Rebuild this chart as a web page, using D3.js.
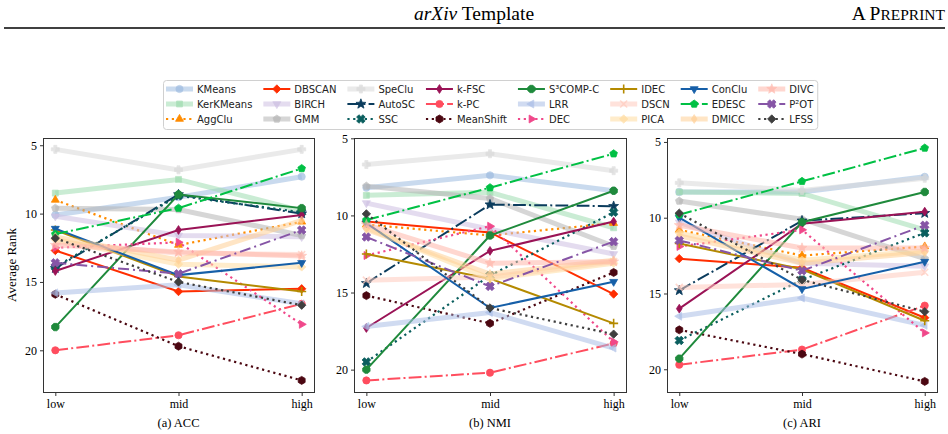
<!DOCTYPE html>
<html>
<head>
<meta charset="utf-8">
<script src="https://cdn.jsdelivr.net/npm/d3@7"></script>
<style>
  body { margin: 0; background: #fff; }
  svg { display: block; }
</style>
</head>
<body>
<script>
// levels on the x axis, shared by all three panels
var levels = ['low', 'mid', 'high'];

var methods = ['KMeans', 'KerKMeans', 'AggClu', 'DBSCAN', 'BIRCH', 'GMM',
  'SpeClu', 'AutoSC', 'SSC', 'k-FSC', 'k-PC', 'MeanShift',
  'S\u00b3COMP-C', 'LRR', 'DEC', 'IDEC', 'DSCN', 'PICA',
  'ConClu', 'EDESC', 'DMICC', 'DIVC', 'P\u00b2OT', 'LFSS'];

// average rank per method, [low, mid, high]
var accRank = [
  [10.1, 8.8, 7.3], [8.5, 7.5, 9.8], [9.0, 12.3, 10.6], [12.7, 15.7, 15.5],
  [10.2, 11.6, 11.7], [9.6, 9.7, 11.6], [5.3, 6.8, 5.3], [14.0, 8.6, 10.0],
  [13.9, 8.7, 9.9], [14.2, 11.2, 10.1], [20.0, 18.9, 16.6], [15.9, 19.7, 22.2],
  [18.3, 8.6, 9.6], [15.8, 15.2, 16.6], [12.5, 12.1, 18.1], [11.2, 14.6, 15.7],
  [12.1, 12.9, 13.0], [11.9, 13.7, 13.9], [11.1, 14.5, 13.6], [11.5, 9.6, 6.7],
  [11.7, 13.4, 10.5], [12.3, 12.8, 13.1], [13.6, 14.4, 11.2], [11.8, 15.0, 16.7]
];
var nmiRank = [
  [8.2, 7.4, 8.4], [8.7, 8.5, 10.8], [10.6, 11.3, 10.5], [10.4, 11.1, 15.1],
  [9.2, 10.9, 12.5], [8.1, 8.9, 12.0], [6.7, 6.0, 7.1], [14.4, 9.3, 9.4],
  [19.5, 13.9, 9.8], [17.3, 12.3, 10.4], [20.7, 20.2, 18.3], [15.2, 17.0, 13.7],
  [20.0, 11.3, 8.4], [17.2, 16.3, 18.6], [12.6, 10.7, 18.2], [12.5, 14.1, 17.0],
  [14.2, 14.0, 13.0], [10.8, 14.1, 13.1], [10.5, 16.0, 14.3], [10.3, 8.2, 6.0],
  [10.9, 13.8, 12.9], [10.6, 13.1, 13.0], [11.4, 14.6, 11.7], [9.9, 16.0, 17.7]
];
var ariRank = [
  [8.3, 8.3, 7.3], [8.3, 8.4, 10.8], [10.8, 12.5, 11.9], [12.7, 13.3, 16.6],
  [10.3, 13.0, 13.2], [8.9, 10.1, 12.7], [7.7, 8.2, 7.4], [14.8, 10.2, 9.7],
  [18.1, 14.1, 11.0], [16.0, 10.4, 9.6], [19.7, 18.7, 15.8], [17.4, 19.0, 20.8],
  [19.3, 10.3, 8.3], [16.5, 15.3, 17.1], [11.9, 10.8, 17.6], [11.7, 13.4, 16.8],
  [14.6, 14.4, 13.6], [11.0, 12.8, 12.2], [10.0, 14.7, 12.9], [9.8, 7.6, 5.4],
  [11.2, 13.0, 12.3], [10.5, 12.0, 12.0], [11.5, 13.5, 10.5], [9.7, 14.1, 16.2]
];

var yTicks = [5, 10, 15, 20];
var panelTitles = ['(a) ACC', '(b) NMI', '(c) ARI'];
var panelData = [accRank, nmiRank, ariRank];
var yDomains = [[4.47, 23.05], [4.98, 21.45], [4.74, 21.5]];

// style per method: colour, line kind, marker
var styles = {
  'KMeans':    ['#9dbbe0', 'pale', 'o'],
  'KerKMeans': ['#9fdcb0', 'pale', 's'],
  'AggClu':    ['#ff8c00', 'dot', '^'],
  'DBSCAN':    ['#ff2d00', 'solid', 'D'],
  'BIRCH':     ['#cdbfe2', 'pale', 'v'],
  'GMM':       ['#b5b5b5', 'pale', 'p'],
  'SpeClu':    ['#d9d9d9', 'pale', 'P'],
  'AutoSC':    ['#0b3c5d', 'dashdot', '*'],
  'SSC':       ['#0a5e5e', 'dot', 'X'],
  'k-FSC':     ['#9a1356', 'solid', 'd'],
  'k-PC':      ['#ff4d5e', 'dashdot', 'o'],
  'MeanShift': ['#4b0711', 'dot', 'h'],
  'S\u00b3COMP-C': ['#1f8a3c', 'solid', '8'],
  'LRR':       ['#a9bde6', 'pale', '<'],
  'DEC':       ['#f0488a', 'dot', '>'],
  'IDEC':      ['#b48a00', 'solid', '+'],
  'DSCN':      ['#ffcabd', 'pale', 'x'],
  'PICA':      ['#ffdca0', 'pale', 'D'],
  'ConClu':    ['#165fa8', 'solid', 'v'],
  'EDESC':     ['#00c044', 'dashdot', 'p'],
  'DMICC':     ['#ffcf96', 'pale', 'd'],
  'DIVC':      ['#ffb6aa', 'pale', '*'],
  'P\u00b2OT': ['#8655a6', 'longdashdot', 'X'],
  'LFSS':      ['#3f3f3f', 'dot', 'D']
};

var width = 948, height = 434;
var serif = '"Liberation Serif", "Times New Roman", serif';
var sans = '"DejaVu Sans", sans-serif';

var svg = d3.select('body').append('svg')
  .attr('width', width).attr('height', height);

// page header
svg.append('text')
  .attr('x', 474).attr('y', 20)
  .attr('text-anchor', 'middle')
  .style('font-family', serif).style('font-size', '19.5px')
  .call(function (t) {
    t.append('tspan').style('font-style', 'italic').text('arXiv');
    t.append('tspan').text(' Template');
  });
svg.append('text')
  .attr('x', 945).attr('y', 20)
  .attr('text-anchor', 'end')
  .style('font-family', serif).style('font-size', '19.5px')
  .call(function (t) {
    t.append('tspan').text('A P');
    t.append('tspan').style('font-size', '15.5px').text('REPRINT');
  });
svg.append('line')
  .attr('x1', 4).attr('x2', 945).attr('y1', 28).attr('y2', 28)
  .attr('stroke', '#000').attr('stroke-width', 1.4);

function polyPath(n, r, rot, sx) {
  sx = sx || 1;
  var p = [];
  for (var i = 0; i < n; i++) {
    var a = rot + i * 2 * Math.PI / n;
    p.push([r * Math.cos(a) * sx, r * Math.sin(a)]);
  }
  return 'M' + p.map(function (q) { return q[0].toFixed(2) + ',' + q[1].toFixed(2); }).join('L') + 'Z';
}

function starPath(r) {
  var p = [];
  for (var i = 0; i < 10; i++) {
    var rr = i % 2 == 0 ? r : r * 0.42;
    var a = -Math.PI / 2 + i * Math.PI / 5;
    p.push([rr * Math.cos(a), rr * Math.sin(a)]);
  }
  return 'M' + p.map(function (q) { return q[0].toFixed(2) + ',' + q[1].toFixed(2); }).join('L') + 'Z';
}

function plusPath(r, rot) {
  var w = r * 0.38;
  var base = [[-w, -r], [w, -r], [w, -w], [r, -w], [r, w], [w, w], [w, r], [-w, r], [-w, w], [-r, w], [-r, -w], [-w, -w]];
  var c = Math.cos(rot), s = Math.sin(rot);
  return 'M' + base.map(function (q) {
    return (q[0] * c - q[1] * s).toFixed(2) + ',' + (q[0] * s + q[1] * c).toFixed(2);
  }).join('L') + 'Z';
}

function markerPath(m) {
  var r = 4;
  switch (m) {
    case 'o': return d3.symbol(d3.symbolCircle, Math.PI * 3.6 * 3.6)();
    case 's': return polyPath(4, r * 1.05, Math.PI / 4);
    case '^': return polyPath(3, r * 1.15, -Math.PI / 2);
    case 'v': return polyPath(3, r * 1.15, Math.PI / 2);
    case '<': return polyPath(3, r * 1.15, Math.PI);
    case '>': return polyPath(3, r * 1.15, 0);
    case 'D': return polyPath(4, r * 1.05, 0);
    case 'd': return polyPath(4, r * 1.1, -Math.PI / 2, 0.65);
    case 'p': return polyPath(5, r, -Math.PI / 2);
    case 'h': return polyPath(6, r, -Math.PI / 2);
    case '8': return polyPath(8, r, Math.PI / 8);
    case '*': return starPath(r * 1.3);
    case 'P': return plusPath(r, 0);
    case 'X': return plusPath(r * 1.1, Math.PI / 4);
    case '+': return 'M-4.5,0L4.5,0M0,-4.5L0,4.5';
    case 'x': return 'M-3.5,-3.5L3.5,3.5M-3.5,3.5L3.5,-3.5';
  }
}

function styleLine(sel, st) {
  var kind = st[1];
  sel.attr('fill', 'none').attr('stroke', st[0]);
  if (kind == 'pale') {
    sel.attr('stroke-width', 5).attr('stroke-opacity', 0.55);
  } else if (kind == 'solid') {
    sel.attr('stroke-width', 2);
  } else if (kind == 'dot') {
    sel.attr('stroke-width', 2.2).attr('stroke-dasharray', '2.2,3.6');
  } else if (kind == 'dashdot') {
    sel.attr('stroke-width', 2).attr('stroke-dasharray', '12.8,3.2,2,3.2');
  } else if (kind == 'longdashdot') {
    sel.attr('stroke-width', 2).attr('stroke-dasharray', '11,4,2,4');
  }
}

function styleMarker(sel, st) {
  var open = st[2] == '+' || st[2] == 'x';
  if (open) {
    sel.attr('fill', 'none').attr('stroke', st[0]).attr('stroke-width', 1.6);
  } else {
    sel.attr('fill', st[0]).attr('stroke', st[0]).attr('stroke-width', 0.8);
  }
  if (st[1] == 'pale') sel.attr('opacity', 0.7);
}

// panels
var panelX = [[43, 314], [354, 626], [667, 937]];
var plotTop = 138, plotBottom = 392;

panelData.forEach(function (data, pi) {
  var x = d3.scalePoint().domain(levels).range(panelX[pi]).padding(0.1);
  var y = d3.scaleLinear().domain(yDomains[pi]).range([plotTop, plotBottom]);
  var g = svg.append('g');

  var line = d3.line()
    .x(function (d, i) { return x(levels[i]); })
    .y(function (d) { return y(d); });

  methods.forEach(function (name, mi) {
    var st = styles[name];
    var s = g.append('g');
    s.append('path').attr('d', line(data[mi])).call(styleLine, st);
    s.selectAll('path.mk')
      .data(data[mi])
      .enter()
      .append('path')
      .attr('class', 'mk')
      .attr('transform', function (d, i) { return 'translate(' + x(levels[i]) + ',' + y(d) + ')'; })
      .attr('d', markerPath(st[2]))
      .call(styleMarker, st);
  });

  // frame
  svg.append('rect')
    .attr('x', panelX[pi][0] + 0.5).attr('y', plotTop + 0.5)
    .attr('width', panelX[pi][1] - panelX[pi][0]).attr('height', plotBottom - plotTop)
    .attr('fill', 'none').attr('stroke', '#333').attr('stroke-width', 1);

  var xAxis = svg.append('g')
    .attr('transform', 'translate(0,' + (plotBottom + 0.5) + ')')
    .call(d3.axisBottom(x).tickSize(3.5).tickPadding(3));
  var yAxis = svg.append('g')
    .attr('transform', 'translate(' + (panelX[pi][0] + 0.5) + ',0)')
    .call(d3.axisLeft(y).tickValues(yTicks).tickSize(3.5).tickPadding(3).tickFormat(d3.format('d')));
  [xAxis, yAxis].forEach(function (ax) {
    ax.select('.domain').remove();
    ax.selectAll('line').attr('stroke', '#333');
    ax.selectAll('text').style('font-family', serif).style('font-size', '12px').attr('fill', '#000');
  });

  svg.append('text')
    .attr('x', (panelX[pi][0] + panelX[pi][1]) / 2).attr('y', 427)
    .attr('text-anchor', 'middle')
    .style('font-family', serif).style('font-size', '12.5px')
    .text(panelTitles[pi]);
});

svg.append('text')
  .attr('transform', 'translate(16,265) rotate(-90)')
  .attr('text-anchor', 'middle')
  .style('font-family', serif).style('font-size', '13px')
  .text('Average Rank');

// legend, 8 columns x 3 rows, column-major like matplotlib
var leg = svg.append('g');
var box = leg.append('rect')
  .attr('fill', '#fff').attr('stroke', '#d0d0d0').attr('stroke-width', 1)
  .attr('rx', 3).attr('ry', 3);
var nrows = 3, ncols = 8;
var rowY = [89, 104, 119];
var colX = 166;
for (var c = 0; c < ncols; c++) {
  var maxW = 0;
  for (var r = 0; r < nrows; r++) {
    var name = methods[c * nrows + r];
    var st = styles[name];
    var item = leg.append('g').attr('transform', 'translate(' + colX + ',' + rowY[r] + ')');
    item.append('line').attr('x1', 0).attr('x2', 27).attr('y1', 0).attr('y2', 0).call(styleLine, st);
    item.append('path').attr('transform', 'translate(13.5,0)').attr('d', markerPath(st[2])).call(styleMarker, st);
    var t = item.append('text')
      .attr('x', 31).attr('y', 3.6)
      .style('font-family', sans).style('font-size', '10px')
      .attr('fill', '#222')
      .text(name);
    maxW = Math.max(maxW, t.node().getComputedTextLength());
  }
  colX += 31 + maxW + (c < ncols - 1 ? 11 : 0);
}
box.attr('x', 163.5).attr('y', 80.5).attr('width', colX + 4 - 163.5).attr('height', 49);
</script>
</body>
</html>
